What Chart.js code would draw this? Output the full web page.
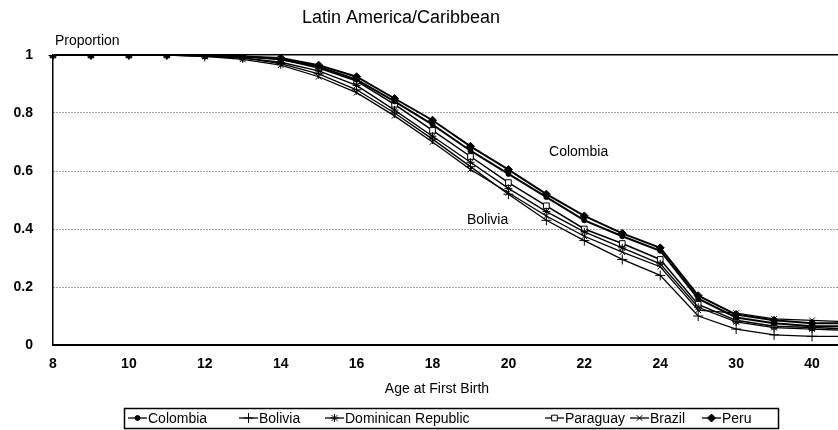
<!DOCTYPE html>
<html>
<head>
<meta charset="utf-8">
<script src="https://cdn.jsdelivr.net/npm/chart.js@4.4.1/dist/chart.umd.min.js"></script>
<style>
  html, body { margin: 0; padding: 0; background: #fff; overflow: hidden; }
  #wrap { width: 870px; height: 430px; }
</style>
</head>
<body>
<div id="wrap"><canvas id="chart" width="870" height="430"></canvas></div>
<script>
const ages = ['8', '9', '10', '11', '12', '13', '14', '15', '16', '17', '18', '19', '20',
              '21', '22', '23', '24', '25', '30', '35', '40', '45'];

const colombia  = [1, 1, 1, 1, 1, 0.995, 0.985, 0.96, 0.915, 0.84, 0.76, 0.67, 0.59, 0.51, 0.43, 0.375, 0.325, 0.16, 0.095, 0.075, 0.065, 0.065];
const bolivia   = [1, 1, 1, 1, 0.995, 0.99, 0.97, 0.935, 0.88, 0.80, 0.71, 0.615, 0.52, 0.43, 0.36, 0.295, 0.24, 0.10, 0.055, 0.035, 0.03, 0.03];
const dominican = [1, 1, 1, 1, 0.997, 0.99, 0.975, 0.945, 0.895, 0.81, 0.72, 0.63, 0.54, 0.46, 0.39, 0.335, 0.28, 0.13, 0.08, 0.06, 0.055, 0.05];
const paraguay  = [1, 1, 1, 1, 0.998, 0.995, 0.985, 0.955, 0.91, 0.83, 0.74, 0.65, 0.56, 0.48, 0.40, 0.35, 0.295, 0.14, 0.085, 0.065, 0.06, 0.055];
const brazil    = [1, 1, 1, 1, 0.995, 0.985, 0.965, 0.925, 0.87, 0.79, 0.70, 0.605, 0.525, 0.445, 0.375, 0.32, 0.27, 0.12, 0.11, 0.09, 0.085, 0.08];
const peru      = [1, 1, 1, 1, 1, 0.995, 0.99, 0.965, 0.925, 0.85, 0.775, 0.685, 0.605, 0.52, 0.445, 0.385, 0.335, 0.17, 0.105, 0.085, 0.075, 0.075];

const FONT = "'Liberation Sans', Arial, sans-serif";

const series = [
    { label: 'Colombia', data: colombia, pointStyle: 'circle', radius: 2.5, fill: '#000', width: 2 },
    { label: 'Bolivia', data: bolivia, pointStyle: 'cross', radius: 5, fill: '#000', width: 1.3 },
    { label: 'Dominican Republic', data: dominican, pointStyle: 'star', radius: 4, fill: '#000', width: 1.3 },
    { label: 'Paraguay', data: paraguay, pointStyle: 'rect', radius: 4, fill: '#fff', width: 1.5 },
    { label: 'Brazil', data: brazil, pointStyle: 'crossRot', radius: 4, fill: '#000', width: 1.3 },
    { label: 'Peru', data: peru, pointStyle: 'rectRot', radius: 4, fill: '#000', width: 2 }
];

// where the legend entries start (Excel-style spacing)
const legendX = [128, 239, 325, 545, 630, 702];

const extrasPlugin = {
    id: 'extras',
    afterDraw(chart) {
        const ctx = chart.ctx;
        const x = chart.scales.x;
        const y = chart.scales.y;
        ctx.save();
        ctx.fillStyle = '#000';
        ctx.textBaseline = 'middle';

        ctx.font = '18px ' + FONT;
        ctx.textAlign = 'center';
        ctx.fillText('Latin America/Caribbean', 401, 18);

        ctx.font = '14px ' + FONT;
        ctx.textAlign = 'left';
        ctx.fillText('Proportion', 55, 41);

        ctx.textAlign = 'center';
        ctx.fillText('Age at First Birth', 437, 389);

        // in-plot labels
        const step = x.getPixelForValue(1) - x.getPixelForValue(0);
        ctx.fillText('Colombia', x.getPixelForValue(13) + 0.85 * step, y.getPixelForValue(0.665));
        ctx.fillText('Bolivia', x.getPixelForValue(11) + 0.45 * step, y.getPixelForValue(0.43));

        // legend box
        const ly = 418;
        ctx.strokeStyle = '#000';
        ctx.lineWidth = 1.5;
        ctx.strokeRect(124.5, 408.5, 654, 20);
        ctx.textAlign = 'left';
        series.forEach((s, i) => {
            const sx = legendX[i];
            ctx.beginPath();
            ctx.lineWidth = 1.3;
            ctx.moveTo(sx, ly);
            ctx.lineTo(sx + 19, ly);
            ctx.stroke();
            if (Chart.helpers && Chart.helpers.drawPoint) {
                ctx.fillStyle = s.fill;
                ctx.strokeStyle = '#000';
                ctx.lineWidth = 1;
                Chart.helpers.drawPoint(ctx, {
                    pointStyle: s.pointStyle, radius: s.radius, rotation: 0, borderWidth: 1
                }, sx + 9.5, ly);
            }
            ctx.fillStyle = '#000';
            ctx.fillText(s.label, sx + 20, ly + 1);
        });
        ctx.restore();
    }
};

const ctx = document.getElementById('chart').getContext('2d');
new Chart(ctx, {
    type: 'line',
    data: {
        labels: ages,
        datasets: series.map(s => ({
            label: s.label,
            data: s.data,
            borderColor: '#000',
            borderWidth: s.width,
            pointStyle: s.pointStyle,
            pointRadius: s.radius,
            pointBorderColor: '#000',
            pointBackgroundColor: s.fill,
            pointBorderWidth: 1,
            tension: 0,
            fill: false
        }))
    },
    options: {
        responsive: false,
        animation: false,
        devicePixelRatio: 1,
        layout: { padding: { top: 55, right: 20, left: 0, bottom: 0 } },
        plugins: {
            legend: { display: false },
            title: { display: false },
            tooltip: { enabled: false }
        },
        scales: {
            x: {
                afterFit: (scale) => { scale.height = 85; },
                grid: { drawOnChartArea: false, drawTicks: false },
                border: { display: true, color: '#000', width: 2 },
                ticks: {
                    autoSkip: false,
                    maxRotation: 0,
                    padding: 11,
                    color: '#000',
                    font: { family: FONT, size: 14, weight: 'bold' },
                    callback: (val, i) => (i % 2 === 0 ? ages[i] : '')
                }
            },
            y: {
                min: 0,
                max: 1,
                afterFit: (scale) => { scale.width = 53; },
                grid: {
                    drawTicks: false,
                    color: (c) => (c.tick && c.tick.value === 1 ? '#000' : '#444'),
                    lineWidth: (c) => (c.tick && c.tick.value === 1 ? 1.5 : 1)
                },
                border: {
                    display: true,
                    color: '#000',
                    width: 1.5,
                    dash: (c) => (c.tick && c.tick.value !== 1 ? [1, 2] : [])
                },
                ticks: {
                    stepSize: 0.2,
                    padding: 20,
                    color: '#000',
                    font: { family: FONT, size: 14, weight: 'bold' },
                    callback: (v) => String(Number(v.toFixed(1)))
                }
            }
        }
    },
    plugins: [extrasPlugin]
});
</script>
</body>
</html>
